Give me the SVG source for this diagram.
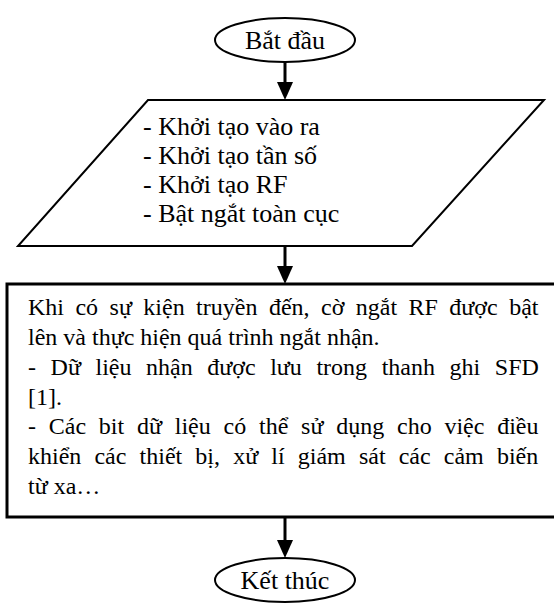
<svg xmlns="http://www.w3.org/2000/svg" width="554" height="605" viewBox="0 0 554 605">
<style>
.s{fill:#fff;stroke:#000;stroke-width:2}
.t{font-family:"Liberation Serif","Times New Roman",serif;font-size:24px;fill:#000}
.b{font-size:26px}
.c{stroke:#000;stroke-width:3;fill:none}
.h{fill:#000;stroke:none}
</style>
<rect width="554" height="605" fill="#fff"/>
<g id="start">
<ellipse class="s" cx="285" cy="40" rx="70" ry="22"/>
<text class="t b" x="285" y="49" text-anchor="middle">Bắt đầu</text>
</g>
<g id="init">
<polygon class="s" points="148,100 544,100 412,246 18,246"/>
<text class="t b" x="143" y="135">- Khởi tạo vào ra</text>
<text class="t b" x="143" y="164">- Khởi tạo tần số</text>
<text class="t b" x="143" y="193">- Khởi tạo RF</text>
<text class="t b" x="143" y="222">- Bật ngắt toàn cục</text>
</g>
<g id="process">
<rect x="7" y="284" width="550" height="233" fill="#fff" stroke="#000" stroke-width="3"/>
<text class="t" x="28" y="315" word-spacing="5.45">Khi có sự kiện truyền đến, cờ ngắt RF được bật</text>
<text class="t" x="28" y="345">lên và thực hiện quá trình ngắt nhận.</text>
<text class="t" x="28" y="375" word-spacing="8.57">- Dữ liệu nhận được lưu trong thanh ghi SFD</text>
<text class="t" x="28" y="405">[1].</text>
<text class="t" x="28" y="434" word-spacing="6.78">- Các bit dữ liệu có thể sử dụng cho việc điều</text>
<text class="t" x="28" y="464" word-spacing="7.14">khiển các thiết bị, xử lí giám sát các cảm biến</text>
<text class="t" x="28" y="494">từ xa…</text>
</g>
<g id="end">
<ellipse class="s" cx="285" cy="580" rx="70" ry="22"/>
<text class="t b" x="285" y="589" text-anchor="middle">Kết thúc</text>
</g>
<g id="connectors">
<line class="c" x1="285" y1="62" x2="285" y2="84"/>
<polygon class="h" points="277,82 293,82 285,100"/>
<line class="c" x1="285" y1="247" x2="285" y2="268"/>
<polygon class="h" points="277,266 293,266 285,284"/>
<line class="c" x1="285" y1="518" x2="285" y2="542"/>
<polygon class="h" points="277,540 293,540 285,558"/>
</g>
</svg>
